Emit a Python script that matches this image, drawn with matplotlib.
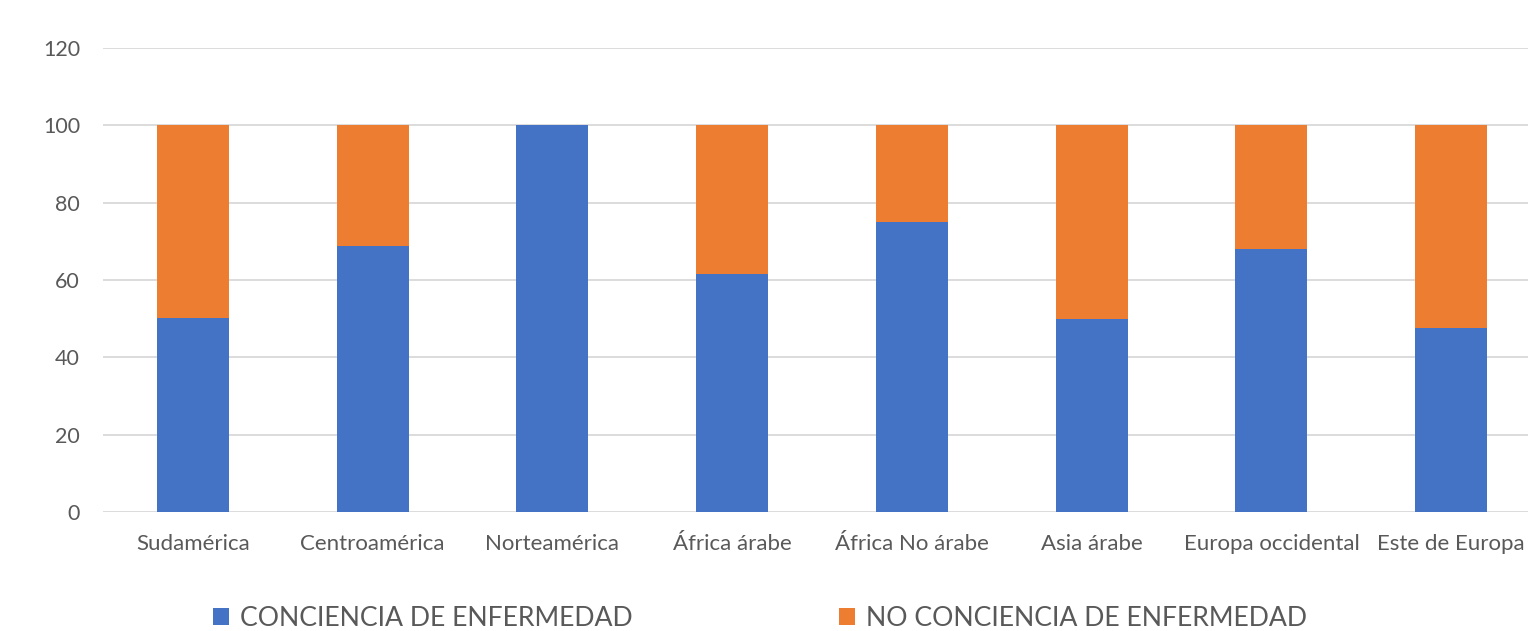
import matplotlib
matplotlib.use("Agg")
import matplotlib.pyplot as plt
import numpy as np

categories = ["Sudamérica", "Centroamérica", "Norteamérica", "África árabe",
              "África No árabe", "Asia árabe", "Europa occidental", "Este de Europa"]
conciencia = [50.3, 68.8, 100.0, 61.5, 75.0, 50.0, 68.0, 47.6]
no_conciencia = [100 - v for v in conciencia]
series_names = ["CONCIENCIA DE ENFERMEDAD", "NO CONCIENCIA DE ENFERMEDAD"]
yticks = [0, 20, 40, 60, 80, 100, 120]

BLUE = "#4472C4"
ORANGE = "#ED7D31"
GRID = "#D9D9D9"
TEXT = "#595959"

plt.rcParams["font.family"] = ["Lato", "DejaVu Sans"]

fig = plt.figure(figsize=(15.28, 6.31), dpi=100)
ax = fig.add_axes([103 / 1528, 119 / 631, 1438 / 1528, 464 / 631])

x = np.arange(len(categories))
w = 0.4
b1 = ax.bar(x, conciencia, width=w, color=BLUE, zorder=3, label=series_names[0])
b2 = ax.bar(x, no_conciencia, width=w, bottom=conciencia, color=ORANGE, zorder=3,
            label=series_names[1])

ax.set_xlim(-0.5, len(categories) - 0.5)
ax.set_ylim(0, 120)
ax.set_yticks(yticks)
ax.set_xticks(x)
ax.set_xticklabels(categories)
ax.yaxis.grid(True, color=GRID, linewidth=1.3, zorder=0)
ax.set_axisbelow(True)
for s in ax.spines.values():
    s.set_visible(False)
ax.tick_params(axis="both", length=0, colors=TEXT)
ax.tick_params(axis="x", pad=16, labelsize=16)
ax.tick_params(axis="y", pad=16.5, labelsize=15.5)

leg = fig.legend(handles=[b1, b2], labels=series_names, loc="lower left",
                 bbox_to_anchor=(213 / 1528, 0), ncol=2, frameon=False,
                 fontsize=19.2, handlelength=0.6, handleheight=0.6, handletextpad=0.4,
                 columnspacing=7.75, borderaxespad=0, borderpad=0)
for t in leg.get_texts():
    t.set_color(TEXT)

fig.savefig("out.png", dpi=100)
